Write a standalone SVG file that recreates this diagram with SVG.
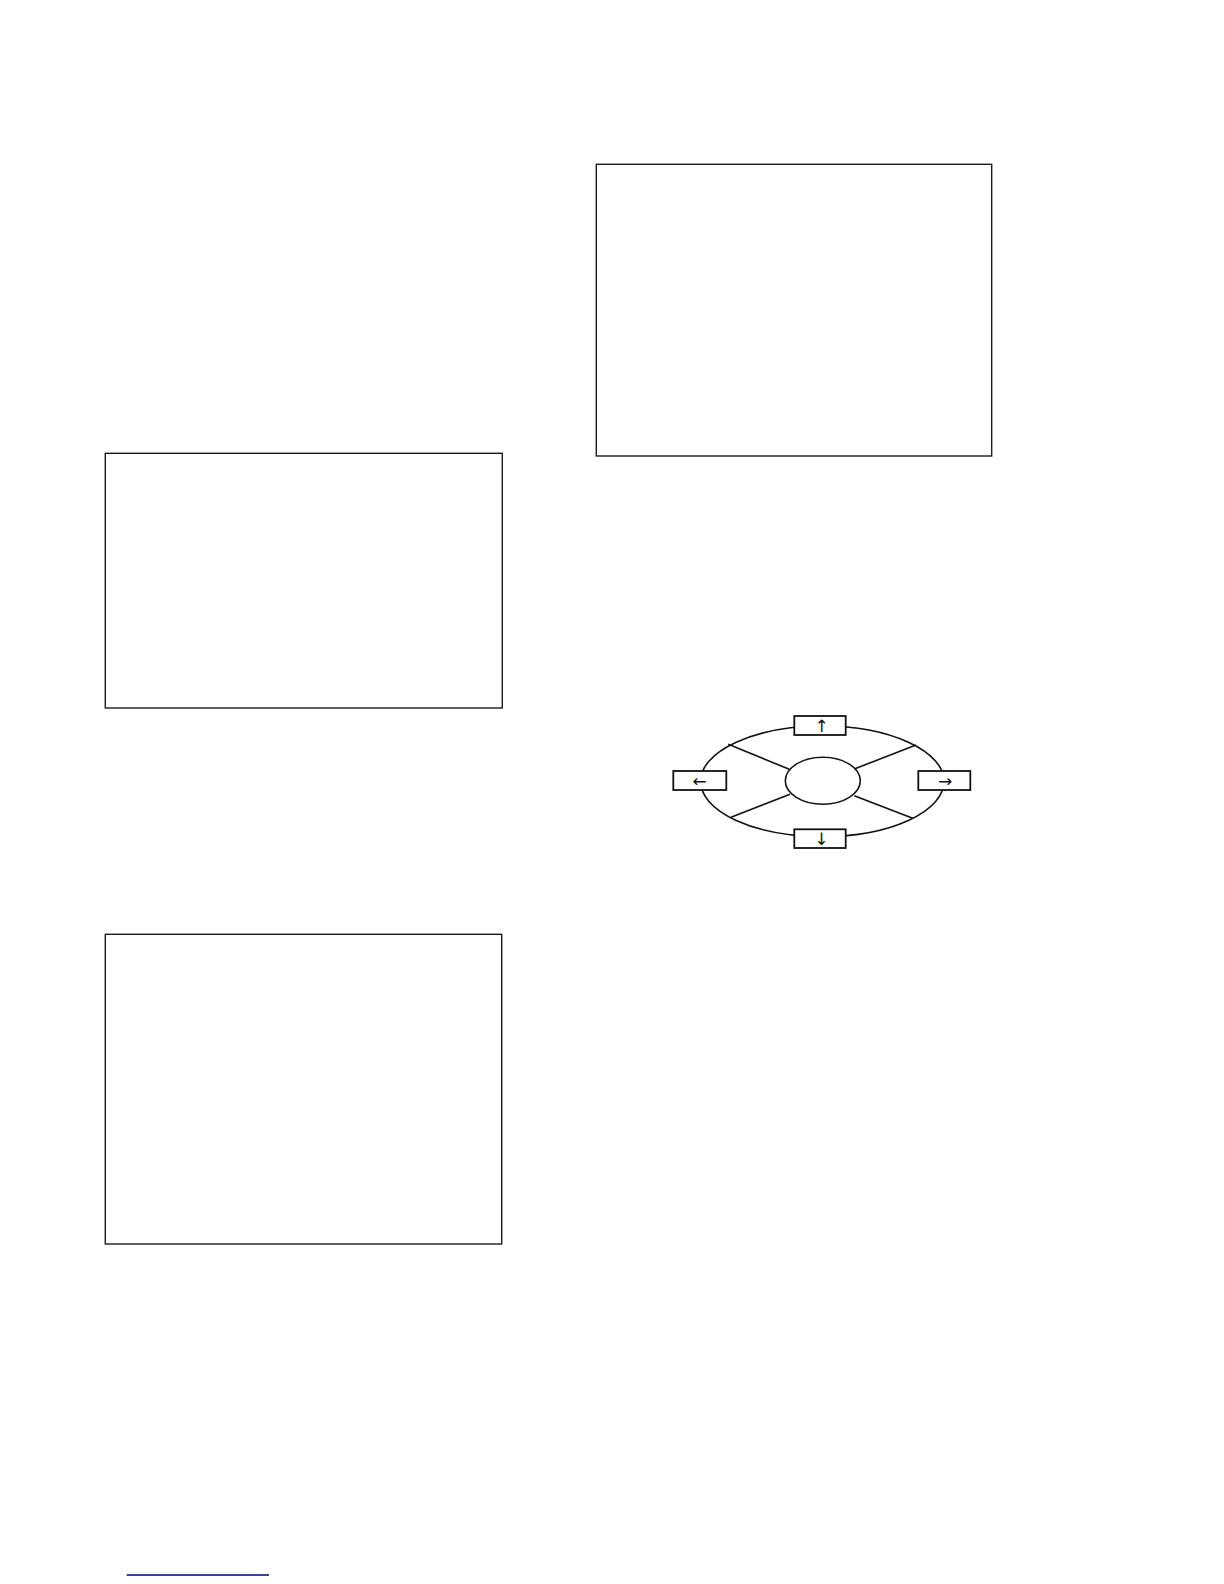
<svg xmlns="http://www.w3.org/2000/svg" width="1224" height="1584" viewBox="0 0 1224 1584">
<style>
.frame{fill:none;stroke:#1a1a1a;stroke-width:1.4}
.sh{fill:none;stroke:#111;stroke-width:1.6}
.box{fill:#fff;stroke:#111;stroke-width:1.8}
.arw{font-family:"DejaVu Sans","Liberation Sans",sans-serif;font-size:17px;fill:#111;text-anchor:middle}
</style>
<rect width="1224" height="1584" fill="#fff"/>
<g id="frame-top-right"><rect class="frame" x="596.3" y="164.3" width="395.4" height="291.7"/></g>
<g id="frame-middle-left"><rect class="frame" x="105.3" y="453.3" width="397" height="254.7"/></g>
<g id="frame-bottom-left"><rect class="frame" x="105.3" y="934.3" width="396.4" height="309.7"/></g>
<g id="wheel">
<ellipse class="sh" cx="822.3" cy="781.3" rx="121.7" ry="55.3"/>
<g id="spokes">
<line class="sh" x1="728.3" y1="744.3" x2="789.3" y2="769.3"/>
<line class="sh" x1="731" y1="817.3" x2="790" y2="794.3"/>
<line class="sh" x1="916" y1="745" x2="854.3" y2="769"/>
<line class="sh" x1="912.7" y1="818.3" x2="854.3" y2="795.7"/>
</g>
<g id="hub"><ellipse class="sh" cx="822.8" cy="780.8" rx="37.5" ry="23.5"/></g>
<g id="btn-up"><rect class="box" x="794.3" y="716" width="51.4" height="19"/><text class="arw" x="821.7" y="731.5">↑</text></g>
<g id="btn-down"><rect class="box" x="794.3" y="829.3" width="51.4" height="18.7"/><text class="arw" x="821.3" y="845">↓</text></g>
<g id="btn-left"><rect class="box" x="673.3" y="771" width="53" height="19"/><text class="arw" x="699.5" y="786.5">←</text></g>
<g id="btn-right"><rect class="box" x="918.3" y="771" width="52" height="19"/><text class="arw" x="945" y="786.5">→</text></g>
</g>
<g id="footer-line"><line x1="126.7" y1="1575" x2="269" y2="1575" stroke="#000080" stroke-width="1.5"/></g>
</svg>
